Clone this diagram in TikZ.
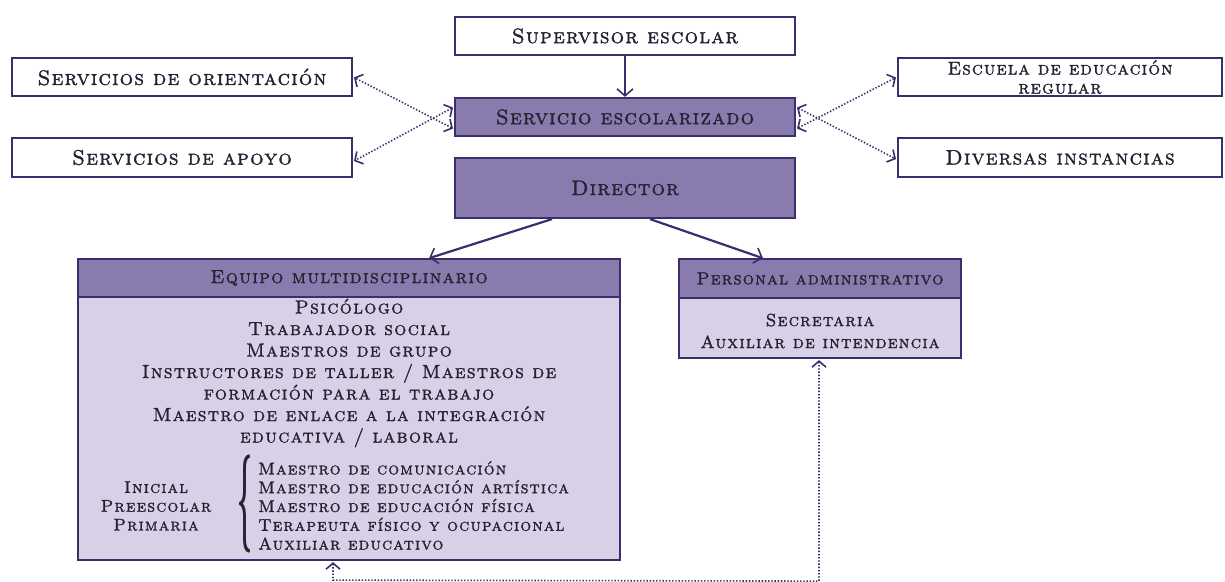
\documentclass[tikz,border=0pt]{standalone}
\usepackage{fontspec}
\usepackage{graphicx}
\usetikzlibrary{arrows.meta,calc}
\definecolor{bord}{HTML}{3A2F6B}
\definecolor{darkf}{HTML}{8A7BAE}
\definecolor{lightf}{HTML}{D8D0E6}
\definecolor{txt}{HTML}{262233}
\newfontfamily\sct{lmromancaps10-regular.otf}[LetterSpace=6,FakeBold=1.5]
\newfontfamily\scu{lmromancaps10-regular.otf}[LetterSpace=7,FakeBold=1.5]
\begin{document}
\begin{tikzpicture}[x=1pt,y=-1pt,
  every node/.style={text=txt,inner sep=0pt},
  boxw/.style={draw=bord,line width=2.2pt,fill=white,minimum width=340pt,minimum height=38pt,align=center,font=\sct\fontsize{21}{18}\selectfont},
  boxd/.style={boxw,fill=darkf},
  hdr/.style={draw=bord,line width=2.2pt,fill=darkf,minimum height=38pt,align=center,font=\scu\fontsize{19}{18}\selectfont},
  bdy/.style={draw=bord,line width=2.2pt,fill=lightf},
  lst/.style={align=center,font=\scu\fontsize{19}{21.5}\selectfont},
  sml/.style={font=\scu\fontsize{17}{18.8}\selectfont},
  solid arrow/.style={draw=bord,line width=2.2pt,-{Straight Barb[length=7pt,width=16pt,line width=1.6pt]}},
  dot arrow/.style={draw=bord,line width=1.6pt,dash pattern=on 1.4pt off 1.8pt,{Straight Barb[length=6pt,width=14pt,line width=1.6pt,sep=1pt]}-{Straight Barb[length=6pt,width=14pt,line width=1.6pt,sep=1pt]}}
]
\useasboundingbox (0,0) rectangle (1225,581);
\fill[white] (0,0) rectangle (1225,581);
% top row
\node[boxw] (sup) at (625,36) {Supervisor escolar};
\node[boxd] (serv) at (625,117) {Servicio escolarizado};
\node[boxd,minimum height=60pt] (dir) at (625,188) {Director};
\node[boxw] (ori) at (182,77) {Servicios de orientación};
\node[boxw,minimum height=39pt] (apo) at (182,157.5) {Servicios de apoyo};
\node[boxw,minimum width=324pt,font=\sct\fontsize{18.5}{19}\selectfont] (esc) at (1060,77) {Escuela de educación\\regular};
\node[boxw,minimum width=324pt,minimum height=39pt] (div) at (1060,157.5) {Diversas instancias};
% equipo
\node[bdy,minimum width=542pt,minimum height=263pt] (eqb) at (349,428.5) {};
\node[hdr,minimum width=542pt] (eqh) at (349,278) {Equipo multidisciplinario};
\node[lst] (eql) at (349,373) {Psicólogo\\Trabajador social\\Maestros de grupo\\Instructores de taller / Maestros de\\formación para el trabajo\\Maestro de enlace a la integración\\educativa / laboral};
\node[sml,align=center] (niv) at (156,506) {Inicial\\Preescolar\\Primaria};
\node (brc) at (245,504) {\resizebox*{15pt}{98pt}{\fontsize{20}{20}\selectfont\bfseries\{}};
\node[sml,align=left,anchor=west] (mae) at (258,505.5) {Maestro de comunicación\\Maestro de educación artística\\Maestro de educación física\\Terapeuta físico y ocupacional\\Auxiliar educativo};
% personal
\node[bdy,minimum width=282pt,minimum height=60pt] (peb) at (820,328) {};
\node[hdr,minimum width=282pt,minimum height=39pt,font=\scu\fontsize{17.5}{18}\selectfont] (peh) at (820,278.5) {Personal administrativo};
\node[lst,font=\scu\fontsize{17.5}{22}\selectfont] (pel) at (820,331) {Secretaria\\Auxiliar de intendencia};
% connectors
\draw[solid arrow] (sup) -- (serv);
\draw[solid arrow,shorten >=-1pt] ([xshift=-73pt]dir.south) -- ([xshift=81pt]eqh.north);
\draw[solid arrow,shorten >=-1pt] ([xshift=25pt]dir.south) -- ([xshift=-58pt]peh.north);
\draw[dot arrow] ([yshift=-12pt]serv.west) -- (ori.east);
\draw[dot arrow] ([yshift=10pt]serv.west) -- ([yshift=-4pt]apo.east);
\draw[dot arrow] ([yshift=-12pt]serv.east) -- (esc.west);
\draw[dot arrow] ([yshift=10pt]serv.east) -- ([yshift=-2pt]div.west);
\coordinate (b1) at ($(eqb.south)+(-16,19)$);
\coordinate (b2) at ($(peb.south)+(-1,222)$);
\draw[dot arrow] (eqb.south -| b1) -- (b1) -- (b2) -- (peb.south -| b2);
\end{tikzpicture}
\end{document}
